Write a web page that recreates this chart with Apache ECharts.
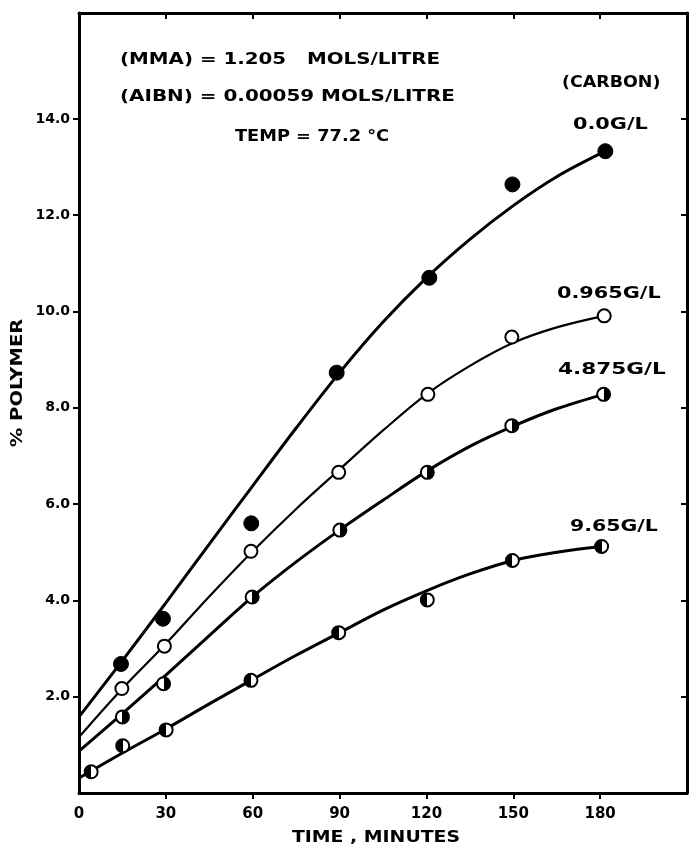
<!DOCTYPE html>
<html>
<head>
<meta charset="utf-8">
<script src="https://cdn.jsdelivr.net/npm/echarts@6/dist/echarts.min.js"></script>
<style>html,body{margin:0;padding:0;background:#fff}#c{width:690px;height:852px}</style>
</head>
<body>
<div id="c"></div>
<script>
// ---- data ----
var xTickValues = [0, 30, 60, 90, 120, 150, 180];
var yTickValues = [2, 4, 6, 8, 10, 12, 14];

// measured points: [time (min), % polymer]
var pts00   = [[14.5, 2.68], [29, 3.62], [59.5, 5.60], [89, 8.73], [121, 10.70], [149.7, 12.64], [181.8, 13.33]];
var pts0965 = [[14.8, 2.17], [29.5, 3.05], [59.4, 5.02], [89.7, 6.66], [120.5, 8.28], [149.5, 9.47], [181.4, 9.91]];
var pts4875 = [[15, 1.58], [29.2, 2.27], [59.8, 4.07], [90.1, 5.46], [120.3, 6.66], [149.5, 7.63], [181.2, 8.28]];
var pts965  = [[4.2, 0.44], [15.1, 0.98], [30.1, 1.31], [59.4, 2.34], [89.7, 3.33], [120.3, 4.01], [149.7, 4.83], [180.5, 5.12]];

// fitted curves
var fit00   = [[0, 1.58], [15, 2.75], [30, 3.95], [45, 5.17], [60, 6.38], [75, 7.58], [90, 8.73], [105, 9.78], [120, 10.7], [135, 11.5], [150, 12.2], [165, 12.8], [181.8, 13.33]];
var fit0965 = [[0, 1.16], [15, 2.17], [30, 3.1], [45, 4.08], [60, 5.02], [75, 5.9], [90, 6.72], [105, 7.53], [120, 8.28], [135, 8.87], [150, 9.35], [165, 9.67], [181.4, 9.91]];
var fit4875 = [[0, 0.87], [15, 1.65], [30, 2.45], [45, 3.27], [60, 4.08], [75, 4.8], [90, 5.46], [105, 6.08], [120, 6.68], [135, 7.2], [150, 7.62], [165, 7.98], [181.2, 8.28]];
var fit965  = [[0, 0.31], [15, 0.83], [30, 1.33], [45, 1.85], [60, 2.36], [75, 2.86], [90, 3.33], [105, 3.8], [120, 4.2], [135, 4.55], [150, 4.83], [165, 5.0], [180.5, 5.12]];

var paramLines = ['(MMA) = 1.205   MOLS/LITRE', '(AIBN) = 0.00059 MOLS/LITRE', 'TEMP = 77.2 °C'];
var carbonTitle = '(CARBON)';
var curveLabels = ['0.0G/L', '0.965G/L', '4.875G/L', '9.65G/L'];
var xName = 'TIME , MINUTES';
var yName = '% POLYMER';

// ---- chart ----
var FONT = 'DejaVu Sans';
var chart = echarts.init(document.getElementById('c'), null, {renderer: 'canvas'});

function halfFill(blackRight) {
  var a = blackRight ? '#fff' : '#000', b = blackRight ? '#000' : '#fff';
  return {type: 'linear', x: 0, y: 0, x2: 1, y2: 0,
    colorStops: [{offset: 0, color: a}, {offset: 0.5, color: a}, {offset: 0.5, color: b}, {offset: 1, color: b}]};
}

function xAx(inside, show) {
  return {
    type: 'value', min: 0, max: 210, interval: 30, gridIndex: 0,
    axisLine: {show: true, onZero: false, lineStyle: {color: '#000', width: 3}},
    axisTick: {show: true, inside: inside, length: 6, customValues: xTickValues.slice(1), lineStyle: {color: '#000', width: 2}},
    axisLabel: {show: show, customValues: xTickValues, margin: 14, color: '#000', fontFamily: FONT, fontWeight: 'bold', fontSize: 15},
    splitLine: {show: false}
  };
}
function yAx(inside, show) {
  return {
    type: 'value', min: 0, max: 16.2, interval: 2, gridIndex: 0,
    axisLine: {show: true, onZero: false, lineStyle: {color: '#000', width: 3}},
    axisTick: {show: true, inside: inside, length: 6, customValues: yTickValues, lineStyle: {color: '#000', width: 2}},
    axisLabel: {show: show, customValues: yTickValues, margin: 9, color: '#000', fontFamily: FONT, fontWeight: 'bold', fontSize: 14,
      formatter: function (v) { return v.toFixed(1); }},
    splitLine: {show: false}
  };
}

function fitSeries(data, w) {
  return {type: 'line', data: data, smooth: 0.35, symbol: 'none', silent: true,
    lineStyle: {color: '#000', width: w}, z: 2, animation: false};
}
function ptSeries(data, size, fill, bw) {
  return {type: 'scatter', data: data, symbol: 'circle', symbolSize: size, z: 5, animation: false,
    itemStyle: {color: fill, borderColor: '#000', borderWidth: bw, opacity: 1}};
}

function txt(t, x, y, size, sx, align, rot) {
  return {type: 'text', x: x, y: y, z: 10, scaleX: sx, rotation: rot || 0,
    style: {text: t, fill: '#000', font: 'bold ' + size + 'px "' + FONT + '"', align: align || 'left', verticalAlign: 'middle'}};
}

var option = {
  backgroundColor: '#fff',
  animation: false,
  grid: {left: 79, right: 3, top: 13, bottom: 59, show: true, borderColor: '#000', borderWidth: 2, backgroundColor: 'transparent'},
  xAxis: [xAx(false, true), xAx(true, false)],
  yAxis: [yAx(false, true), yAx(true, false)],
  series: [
    fitSeries(fit00, 3), fitSeries(fit0965, 2.2), fitSeries(fit4875, 3), fitSeries(fit965, 3),
    ptSeries(pts00, 15, '#000', 1),
    ptSeries(pts0965, 13, '#fff', 2),
    ptSeries(pts4875, 13, halfFill(true), 2),
    ptSeries(pts965, 13, halfFill(false), 2)
  ],
  graphic: [
    txt(paramLines[0], 120, 60, 16, 1.24),
    txt(paramLines[1], 120, 97, 16, 1.245),
    txt(paramLines[2], 235, 137, 16, 1.11),
    txt(carbonTitle, 562, 83, 16, 1.09),
    txt(curveLabels[0], 573, 125, 16, 1.3),
    txt(curveLabels[1], 557, 294, 16, 1.3),
    txt(curveLabels[2], 558, 370, 16, 1.35),
    txt(curveLabels[3], 570, 527, 16, 1.28),
    txt(xName, 376, 838, 16, 1.18, 'center'),
    txt(yName, 18, 383, 15, 1.3, 'center', Math.PI / 2)
  ]
};
chart.setOption(option);
</script>
</body>
</html>
